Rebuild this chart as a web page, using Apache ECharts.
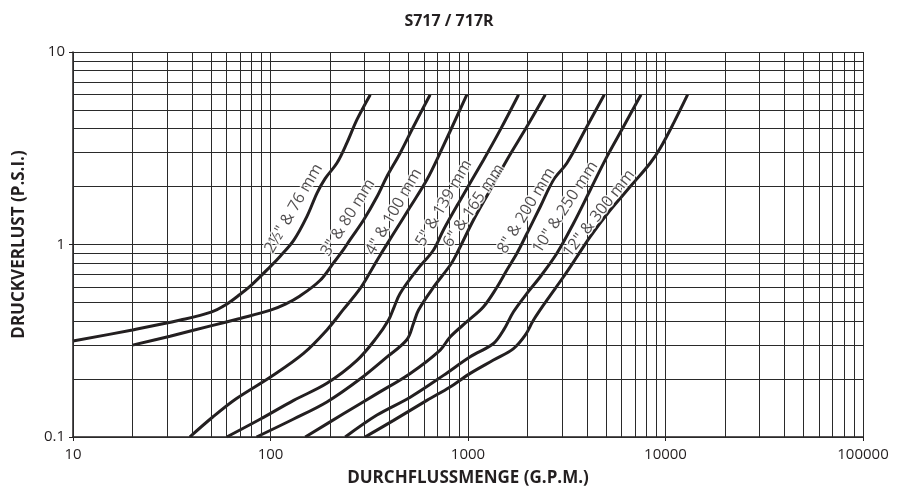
<!DOCTYPE html>
<html lang="de">
<head>
    <meta charset="UTF-8">
    <title>S717 / 717R</title>
    <script src="https://cdn.jsdelivr.net/npm/echarts@6/dist/echarts.min.js"></script>
    <style>
        html, body { margin: 0; padding: 0; background: #fff; }
        #main { width: 898px; height: 494px; }
    </style>
</head>
<body>
<div id="main"></div>
<script>
    // Druckverlust-Kurven je Nennweite (x = G.P.M., y = P.S.I.)
    var curve2h = [[10, 0.315], [20, 0.36], [35, 0.405], [50, 0.445], [60, 0.49], [70, 0.55], [80, 0.615], [100, 0.77],
        [112, 0.87], [131, 1.05], [153, 1.4], [172, 1.85], [189, 2.2], [217, 2.65], [243, 3.35], [274, 4.45], [320, 6]];
    var curve3 = [[20, 0.30], [31, 0.334], [51, 0.38], [70, 0.413], [100, 0.456], [119, 0.49], [141, 0.54], [178, 0.65],
        [208, 0.80], [234, 0.94], [253, 1.06], [296, 1.34], [346, 1.77], [388, 2.25], [453, 2.98], [530, 4.1], [643, 6]];
    var curve4 = [[39, 0.1], [51, 0.127], [67, 0.158], [100, 0.205], [147, 0.272], [193, 0.36], [234, 0.46], [284, 0.59],
        [320, 0.72], [359, 0.88], [420, 1.14], [510, 1.57], [619, 2.17], [723, 3.0], [987, 6]];
    var curve5 = [[60, 0.1], [89, 0.124], [131, 0.155], [193, 0.19], [274, 0.25], [346, 0.33], [396, 0.405],
        [420, 0.466], [453, 0.557], [551, 0.737], [669, 0.936], [751, 1.19], [913, 1.7], [1198, 2.75], [1456, 3.94], [1803, 6]];
    var curve6 = [[85, 0.1], [131, 0.124], [193, 0.152], [284, 0.20], [388, 0.26], [490, 0.32], [530, 0.39],
        [561, 0.456], [669, 0.60], [812, 0.78], [879, 0.90], [1066, 1.34], [1296, 1.92], [1574, 2.75], [1988, 4.1], [2461, 6]];
    var curve8 = [[150, 0.1], [234, 0.132], [346, 0.168], [510, 0.214], [723, 0.283], [812, 0.331], [987, 0.397], [1198, 0.475],
        [1401, 0.60], [1574, 0.737], [1769, 0.90], [1988, 1.14], [2322, 1.57], [2711, 2.17], [3170, 2.65], [4003, 4.1], [4898, 6]];
    var curve10 = [[239, 0.1], [346, 0.13], [510, 0.161], [751, 0.209], [1026, 0.261], [1346, 0.306], [1513, 0.359], [1700, 0.447],
        [1988, 0.557], [2322, 0.68], [2820, 0.90], [3424, 1.29], [4159, 1.92], [5053, 2.86], [6134, 4.1], [7514, 6]];
    var curve12 = [[301, 0.1], [420, 0.122], [619, 0.155], [812, 0.182], [1026, 0.214], [1346, 0.251], [1700, 0.288], [1949, 0.338],
        [2147, 0.405], [2510, 0.514], [3046, 0.68], [3562, 0.864], [4159, 1.1], [5253, 1.51], [6633, 2.0], [8375, 2.65],
        [9412, 3.17], [10990, 4.27], [12942, 6]];

    var curves = [curve2h, curve3, curve4, curve5, curve6, curve8, curve10, curve12];
    var sizeNames = ['2½" & 76 mm', '3" & 80 mm', '4" & 100 mm', '5" & 139 mm', '6" & 165 mm', '8" & 200 mm', '10" & 250 mm', '12" & 300 mm'];
    // Beschriftung entlang der Kurven
    var labelX = [131, 247, 421, 755, 1070, 1975, 3110, 4600];
    var labelY = [1.54, 1.38, 1.48, 1.64, 1.59, 1.50, 1.56, 1.45];
    var labelAngle = [60, 58, 60, 60, 56, 59, 57, 52];

    var xDecades = [10, 100, 1000, 10000];
    var yDecades = [0.1, 1];
    var steps = [1, 2, 3, 4, 5, 6, 7, 8, 9];

    var ink = '#231f20';
    var font = 'Open Sans';

    var gridLines = [];
    xDecades.forEach(function (d) {
        steps.forEach(function (s) { gridLines.push({ xAxis: +(d * s).toPrecision(6) }); });
    });
    gridLines.push({ xAxis: 100000 });
    yDecades.forEach(function (d) {
        steps.forEach(function (s) { gridLines.push({ yAxis: +(d * s).toPrecision(6) }); });
    });
    gridLines.push({ yAxis: 10 });

    var chart = echarts.init(document.getElementById('main'));

    var series = [{
        type: 'line',
        data: [[10, 0.1]],
        symbol: 'none',
        lineStyle: { opacity: 0 },
        silent: true,
        z: 1,
        markLine: {
            silent: true,
            symbol: 'none',
            label: { show: false },
            animation: false,
            lineStyle: { color: '#2a2a2a', width: 1, type: 'solid' },
            data: gridLines
        }
    }];

    curves.forEach(function (c, i) {
        series.push({
            name: sizeNames[i],
            type: 'line',
            data: c,
            symbol: 'none',
            smooth: 0.35,
            z: 3,
            lineStyle: { color: ink, width: 3 }
        });
    });

    var labelData = sizeNames.map(function (n, i) {
        return {
            value: [labelX[i], labelY[i]],
            name: n,
            label: { rotate: labelAngle[i] }
        };
    });

    series.push({
        type: 'scatter',
        data: labelData,
        symbolSize: 0,
        z: 5,
        silent: true,
        label: {
            show: true,
            position: 'inside',
            formatter: function (p) { return p.name; },
            fontFamily: font,
            fontSize: 16,
            color: ink,
            textBorderColor: '#fff',
            textBorderWidth: 3
        }
    });

    var option = {
        animation: false,
        backgroundColor: '#fff',
        title: {
            text: 'S717 / 717R',
            left: 'center',
            top: 8,
            textStyle: { fontFamily: font, fontSize: 16, fontWeight: 'bold', color: ink }
        },
        grid: { left: 73, right: 35, top: 52, bottom: 57, containLabel: false, outerBoundsMode: 'none' },
        xAxis: {
            type: 'log',
            logBase: 10,
            min: 10,
            max: 100000,
            name: 'DURCHFLUSSMENGE (G.P.M.)',
            nameLocation: 'middle',
            nameGap: 33,
            nameTextStyle: { fontFamily: font, fontSize: 17, fontWeight: 'bold', color: ink },
            axisLine: { lineStyle: { color: ink, width: 1.5 } },
            axisTick: { show: true, length: 4, lineStyle: { color: ink } },
            axisLabel: {
                fontFamily: font, fontSize: 15, color: ink, margin: 10,
                formatter: function (v) { return String(+v.toPrecision(6)); }
            },
            splitLine: { show: false }
        },
        yAxis: {
            type: 'log',
            logBase: 10,
            min: 0.1,
            max: 10,
            name: 'DRUCKVERLUST (P.S.I.)',
            nameLocation: 'middle',
            nameGap: 45,
            nameTextStyle: { fontFamily: font, fontSize: 17, fontWeight: 'bold', color: ink },
            axisLine: { lineStyle: { color: ink, width: 1.5 } },
            axisTick: { show: true, length: 4, lineStyle: { color: ink } },
            axisLabel: {
                fontFamily: font, fontSize: 15, color: ink, margin: 8,
                formatter: function (v) { return String(+v.toPrecision(6)); }
            },
            splitLine: { show: false }
        },
        series: series
    };

    chart.setOption(option);
</script>
</body>
</html>
